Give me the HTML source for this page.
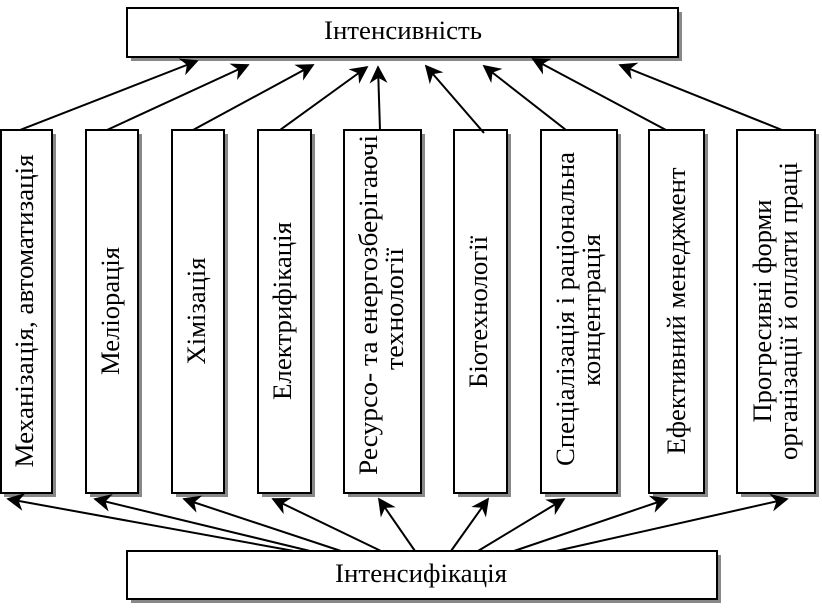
<!DOCTYPE html>
<html><head><meta charset="utf-8"><style>body{margin:0;background:#fff}svg{display:block}</style></head><body>
<svg width="822" height="608" viewBox="0 0 822 608" xmlns="http://www.w3.org/2000/svg">
<defs><marker id="a" viewBox="0 0 10 10" refX="9" refY="5" markerWidth="18" markerHeight="18" markerUnits="userSpaceOnUse" orient="auto"><path d="M0,0 L10,5 L0,10 L3,5 z" fill="#000"/></marker></defs>
<g fill="#888">
<rect x="131" y="12" width="551" height="49"/>
<rect x="131" y="555" width="590" height="48"/>
<rect x="4" y="134" width="52" height="363"/>
<rect x="90" y="134" width="52" height="363"/>
<rect x="176" y="134" width="52" height="363"/>
<rect x="262" y="134" width="53" height="363"/>
<rect x="348" y="134" width="77" height="363"/>
<rect x="458" y="134" width="53" height="363"/>
<rect x="545" y="134" width="76" height="363"/>
<rect x="653" y="134" width="55" height="363"/>
<rect x="741" y="134" width="78" height="363"/>
</g>
<g fill="#fff" stroke="#000" stroke-width="2">
<rect x="127" y="8" width="551" height="49"/>
<rect x="127" y="551" width="590" height="48"/>
<rect x="1" y="130" width="51" height="363"/>
<rect x="86" y="130" width="52" height="363"/>
<rect x="172" y="130" width="52" height="363"/>
<rect x="258" y="130" width="53" height="363"/>
<rect x="344" y="130" width="77" height="363"/>
<rect x="454" y="130" width="53" height="363"/>
<rect x="541" y="130" width="76" height="363"/>
<rect x="649" y="130" width="55" height="363"/>
<rect x="737" y="130" width="78" height="363"/>
</g>
<g stroke="#000" stroke-width="2" marker-end="url(#a)">
<line x1="20" y1="130" x2="197" y2="61"/>
<line x1="107" y1="130" x2="248" y2="65"/>
<line x1="193" y1="130" x2="313" y2="65"/>
<line x1="280" y1="130" x2="367" y2="67"/>
<line x1="380" y1="130" x2="378" y2="67"/>
<line x1="484" y1="133" x2="426" y2="66"/>
<line x1="566" y1="130" x2="484" y2="66"/>
<line x1="666" y1="130" x2="533" y2="59"/>
<line x1="782" y1="130" x2="620" y2="65"/>
<line x1="294" y1="551" x2="8" y2="499"/>
<line x1="310" y1="551" x2="95" y2="499"/>
<line x1="341" y1="551" x2="184" y2="499"/>
<line x1="381" y1="551" x2="273" y2="499"/>
<line x1="415" y1="551" x2="379" y2="499"/>
<line x1="451" y1="551" x2="488" y2="499"/>
<line x1="478" y1="551" x2="564" y2="499"/>
<line x1="514" y1="551" x2="667" y2="499"/>
<line x1="556" y1="551" x2="787" y2="499"/>
</g>
<g text-anchor="middle" font-family="'Liberation Serif', serif" font-size="26" style="font-family:'Liberation Serif',serif;font-size:26px">
<text x="403" y="39" textLength="158" lengthAdjust="spacingAndGlyphs">Інтенсивність</text>
<text x="421" y="582" textLength="172" lengthAdjust="spacingAndGlyphs">Інтенсифікація</text>
<text transform="translate(33,311) rotate(-90)" textLength="313" lengthAdjust="spacingAndGlyphs">Механізація, автоматизація</text>
<text transform="translate(119,311) rotate(-90)" textLength="128" lengthAdjust="spacingAndGlyphs">Меліорація</text>
<text transform="translate(205,311) rotate(-90)" textLength="107" lengthAdjust="spacingAndGlyphs">Хімізація</text>
<text transform="translate(291,311) rotate(-90)" textLength="178" lengthAdjust="spacingAndGlyphs">Електрифікація</text>
<text transform="translate(377,305) rotate(-90)" textLength="340" lengthAdjust="spacingAndGlyphs">Ресурсо- та енергозберігаючі</text>
<text transform="translate(403,309) rotate(-90)" textLength="122" lengthAdjust="spacingAndGlyphs">технології</text>
<text transform="translate(487,312) rotate(-90)" textLength="152" lengthAdjust="spacingAndGlyphs">Біотехнології</text>
<text transform="translate(574,309) rotate(-90)" textLength="314" lengthAdjust="spacingAndGlyphs">Спеціалізація і раціональна</text>
<text transform="translate(600,310) rotate(-90)" textLength="152" lengthAdjust="spacingAndGlyphs">концентрація</text>
<text transform="translate(685,311) rotate(-90)" textLength="287" lengthAdjust="spacingAndGlyphs">Ефективний менеджмент</text>
<text transform="translate(771,311) rotate(-90)" textLength="223" lengthAdjust="spacingAndGlyphs">Прогресивні форми</text>
<text transform="translate(797,311) rotate(-90)" textLength="298" lengthAdjust="spacingAndGlyphs">організації й оплати праці</text>
</g>
</svg>
</body></html>
